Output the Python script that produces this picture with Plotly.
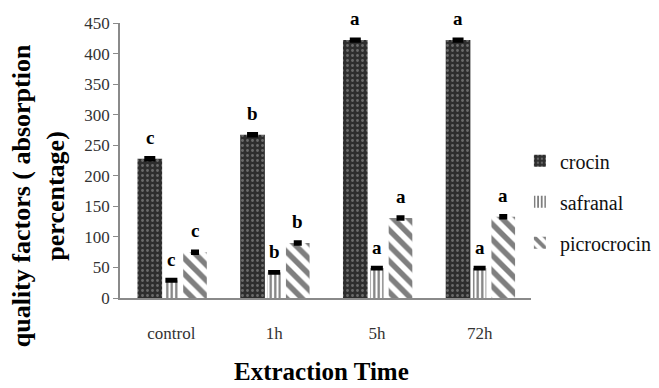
import plotly.graph_objects as go

categories = ["control", "1h", "5h", "72h"]
crocin = [228, 267, 422, 422]
safranal = [29, 42, 49, 49]
picrocrocin = [75, 90, 131, 133]
crocin_err = [2, 2, 2, 2]
safranal_err = [1.5, 1.5, 1.5, 1.5]
picrocrocin_err = [2, 2, 2, 2]
crocin_letters = ["c", "b", "a", "a"]
safranal_letters = ["c", "b", "a", "a"]
picrocrocin_letters = ["c", "b", "a", "a"]
y_ticks = [0, 50, 100, 150, 200, 250, 300, 350, 400, 450]

FONT = "Liberation Serif"

series = [
    dict(name="crocin", y=crocin, err=crocin_err, letters=crocin_letters,
         offset=-0.33, width=0.24,
         pattern=dict(shape=".", bgcolor="#2e2e2e", fgcolor="#a8a8a8", size=5, solidity=0.25),
         ew=5.5),
    dict(name="safranal", y=safranal, err=safranal_err, letters=safranal_letters,
         offset=-0.065, width=0.13,
         pattern=dict(shape="|", bgcolor="#ffffff", fgcolor="#000000", size=4.5, solidity=0.5),
         ew=6),
    dict(name="picrocrocin", y=picrocrocin, err=picrocrocin_err, letters=picrocrocin_letters,
         offset=0.115, width=0.23,
         pattern=dict(shape="\\", bgcolor="#ffffff", fgcolor="#000000", size=11, solidity=0.5),
         ew=4),
]

fig = go.Figure()
annotations = []
for s in series:
    fig.add_trace(go.Bar(
        name=s["name"], x=categories, y=s["y"],
        offset=s["offset"], width=s["width"],
        marker=dict(color="#ffffff", pattern=s["pattern"], line=dict(width=0)),
        error_y=dict(type="data", array=s["err"], visible=True, color="#000000",
                     thickness=3, width=s["ew"]),
        legendgroup=s["name"],
    ))
    for i, (v, e, t) in enumerate(zip(s["y"], s["err"], s["letters"])):
        annotations.append(dict(
            x=i + s["offset"] + s["width"] / 2, y=v + e, xref="x", yref="y",
            text="<b>" + t + "</b>", showarrow=False, yanchor="middle", yshift=20,
            font=dict(family=FONT, size=19, color="#000000"),
        ))

annotations.append(dict(
    x=0, y=0.37, xref="paper", yref="paper", xanchor="center", yanchor="middle",
    xshift=-82, textangle=-90, showarrow=False,
    text="<b>quality factors ( absorption<br>percentage)</b>",
    font=dict(family=FONT, size=26, color="#000000"),
))
annotations.append(dict(
    x=0.5, y=0, xref="paper", yref="paper", xanchor="center", yanchor="middle",
    xshift=-4, yshift=-73, showarrow=False,
    text="<b>Extraction Time</b>",
    font=dict(family=FONT, size=25, color="#000000"),
))

# page body adds an 8px offset; figure is sized to fill the 659x388 window
fig.update_layout(
    width=651, height=380,
    margin=dict(l=112, r=128, t=15, b=90, autoexpand=False),
    paper_bgcolor="#ffffff", plot_bgcolor="#ffffff",
    barmode="group",
    font=dict(family=FONT, color="#333333"),
    showlegend=True,
    legend=dict(x=0.973, xanchor="left", y=0.57, yanchor="top",
                font=dict(family=FONT, size=20, color="#111111"),
                traceorder="grouped", tracegroupgap=12, bgcolor="rgba(0,0,0,0)"),
    annotations=annotations,
    xaxis=dict(
        automargin=False,
        showline=True, linecolor="#8a8a8a", linewidth=2, ticks="",
        showgrid=False, tickfont=dict(family=FONT, size=17, color="#333333"),
        ticklabelstandoff=19,
    ),
    yaxis=dict(
        automargin=False,
        range=[0, 450], tickvals=y_ticks, showline=True, linecolor="#8a8a8a", linewidth=1.5,
        ticks="outside", ticklen=5, tickcolor="#8a8a8a", showgrid=False, zeroline=False,
        tickfont=dict(family=FONT, size=17, color="#333333"),
    ),
)

fig.write_html("out.html")
